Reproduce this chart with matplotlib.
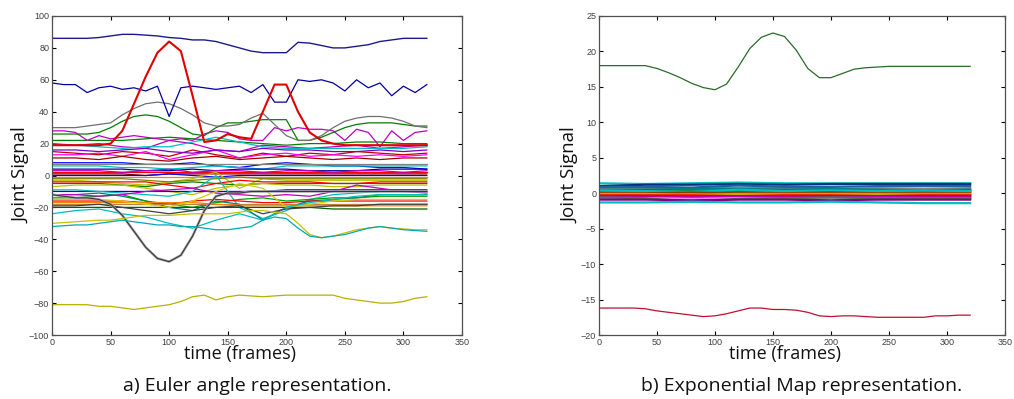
import matplotlib
matplotlib.use("Agg")
import matplotlib.pyplot as plt

# time grids (frames)
t10 = list(range(0, 330, 10))
t20 = list(range(0, 330, 20))
t40 = [0, 40, 80, 120, 160, 200, 240, 280, 320]

# ---- a) Euler angles: prominent signals on the 10-frame grid ----
euler_top_blue = [86, 86, 86, 86, 86.5, 87.5, 88.5, 88.5, 88, 87.5, 86.5, 86, 85, 85, 84, 82, 80,
                  78, 77, 77, 77, 83.5, 83, 81.5, 80, 80, 81, 82, 84, 85, 86, 86, 86]
euler_noisy_blue = [58, 57, 57, 52, 55, 56, 54, 55, 53, 56, 37, 55, 56, 55, 54, 55, 56,
                    52, 57, 46, 46, 60, 59, 60, 58, 53, 60, 55, 58, 50, 56, 52, 57]
euler_red_bell = [19, 19, 19, 19, 19, 20, 28, 45, 62, 77, 84, 78, 50, 21, 22, 26, 24,
                  23, 40, 57, 57, 40, 27, 22, 20, 19, 19, 19, 19, 19, 19, 19, 19]
euler_gray_bell = [30, 30, 30, 31, 32, 33, 38, 42, 45, 46, 45, 42, 38, 33, 31, 31, 32,
                   36, 39, 32, 25, 22, 22, 25, 30, 34, 36, 37, 37, 36, 34, 31, 30]
euler_green_bell = [26, 26, 26, 26, 27, 30, 34, 37, 38, 37, 34, 30, 26, 25, 30, 33, 33,
                    34, 35, 35, 35, 22, 22, 24, 27, 30, 32, 33, 33, 33, 32, 31, 31]
euler_magenta = [28, 28, 27, 22, 25, 23, 24, 25, 24, 23, 22, 23, 22, 26, 28, 27, 23,
                 22, 22, 30, 28, 30, 29, 29, 28, 22, 29, 27, 18, 28, 22, 27, 28]
euler_black_v = [-12, -13, -14, -14, -15, -18, -25, -35, -45, -52, -54, -50, -38, -22, -13, -11, -11,
                 -10, -10, -10, -10, -10, -10, -10, -10, -10, -10, -10, -10, -10, -10, -10, -10]
euler_yellow_low = [-81, -81, -81, -81, -82, -82, -83, -84, -83, -82, -81, -79, -76, -75, -78, -76, -75,
                    -75.5, -76, -75.5, -75, -75, -75, -75, -75, -77, -78, -79, -80, -80, -79, -77, -76]
euler_cyan_low = [-32, -31.5, -31, -31, -30, -29, -28, -29, -30, -31, -31, -32, -32, -33, -34, -34, -33,
                  -32, -28, -26, -27, -33, -38, -39, -38, -37, -35, -33, -32, -33, -34, -34.5, -35]
euler_yellow_mid = [-30, -29.5, -29, -28.5, -28, -28, -27, -26, -25, -25, -25, -24.5, -24, -24, -24, -24, -23,
                    -22, -22, -23, -24, -30, -37, -39, -38, -36, -34, -33, -32, -33, -33.5, -34, -34]

# ---- a) Euler angles: bundle on the 20-frame grid ----
bundle_a = [
    ('#c000c0', [20, 19, 20, 18, 17, 22, 20, 16, 15, 19, 18, 17, 18, 19, 17, 18, 19]),
    ('#008000', [22, 22, 22, 22, 23, 24, 23, 22, 21, 20, 19, 20, 20, 21, 21, 20, 20]),
    ('#00bfbf', [19, 19, 18, 17, 18, 18, 21, 24, 21, 18, 17, 17, 17, 17, 17, 17, 18]),
    ('#c00000', [15, 14, 13, 15, 14, 12, 16, 13, 11, 14, 12, 14, 13, 15, 14, 13, 14]),
    ('#ff00ff', [13, 13, 14, 12, 15, 10, 13, 16, 11, 13, 14, 12, 13, 12, 13, 12, 13]),
    ('#8000c0', [16, 16, 15, 16, 17, 15, 14, 16, 15, 17, 16, 16, 15, 15, 16, 15, 16]),
    ('#a00000', [11, 11, 10, 12, 10, 9, 11, 12, 10, 11, 12, 11, 10, 11, 10, 11, 11]),
    ('#0000ff', [8, 8, 8, 8, 7, 7, 8, 6, 5, 7, 8, 7, 6, 6, 5, 5, 4]),
    ('#808080', [7, 7, 7, 7, 7, 7, 7, 7, 7, 7, 7, 7, 7, 7, 7, 7, 7]),
    ('#00bfbf', [6, 6, 6, 5, 5, 4, 5, 6, 5, 4, 6, 6, 6, 6, 6, 6, 6]),
    ('#0000a0', [4, 4, 4, 4, 3, 3, 4, 3, 4, 4, 4, 3, 3, 3, 4, 4, 4]),
    ('#ff0000', [2, 2, 2, 2, 2, 2, 2, 2, 2, 2, 2, 2, 2, 2, 2, 2, 2]),
    ('#800000', [1, 1, 1, 1, 0, 1, 1, 1, 1, 1, 1, 1, 1, 1, 1, 1, 1]),
    ('#bf00bf', [3, 3, 3, 2, 3, 4, 2, 3, 3, 2, 3, 3, 2, 3, 3, 2, 3]),
    ('#0000ff', [0, 0, 0, 0, 0, 1, 0, -1, 0, 0, 0, 0, 0, 0, 0, 0, 0]),
    ('#ff8000', [-1, -1, -1, -1, -1, -1, -1, -1, -1, -1, -1, -1, -1, -1, -1, -1, -1]),
    ('#bfbf00', [-3, -3, -4, -5, -6, -4, -2, 2, -8, -2, -3, -3, -3, -3, -3, -3, -3]),
    ('#008000', [-5, -5, -5, -6, -7, -5, -4, -5, -6, -5, -5, -5, -5, -5, -5, -5, -5]),
    ('#808000', [-2, -2, -2, -2, -3, -4, -3, -2, -1, -2, -2, -2, -2, -2, -2, -2, -2]),
    ('#ff0000', [-4, -4, -4, -4, -4, -6, -8, -5, -3, -4, -4, -4, -5, -5, -4, -4, -4]),
    ('#bfbf00', [-7, -6, -6, -6, -8, -10, -12, -8, -6, -5, -6, -6, -7, -7, -6, -6, -6]),
    ('#0000ff', [-10, -10, -10, -10, -10, -10, -10, -10, -10, -10, -9, -9, -9, -9, -9, -9, -9]),
    ('#00bfbf', [-9, -9, -10, -11, -12, -13, -10, 0, -20, -27, -22, -15, -12, -11, -10, -10, -10]),
    ('#008080', [-12, -12, -11, -13, -16, -20, -22, -16, -18, -28, -20, -16, -15, -14, -12, -12, -12]),
    ('#00a000', [-14, -14, -13, -12, -16, -18, -20, -17, -15, -14, -16, -15, -14, -14, -13, -13, -13]),
    ('#bf00bf', [-12, -12, -13, -12, -10, -9, -8, -11, -12, -13, -12, -13, -10, -6, -8, -10, -11]),
    ('#ff0000', [-16, -16, -16, -16, -17, -18, -16, -15, -16, -17, -17, -16, -16, -16, -16, -16, -16]),
    ('#c08040', [-18, -18, -18, -18, -18, -18, -18, -18, -18, -18, -18, -18, -18, -18, -18, -18, -18]),
    ('#ff8000', [-17, -17, -17, -17, -17, -17, -17, -18, -19, -19, -19, -19, -19, -19, -19, -19, -19]),
    ('#006000', [-20, -20, -20, -20, -20, -20, -20, -20, -20, -20, -20, -20, -21, -21, -21, -21, -21]),
    ('#d0d000', [-15, -15, -15, -16, -18, -20, -16, -10, -5, -8, -20, -18, -16, -15, -15, -15, -15]),
    ('#00bfbf', [-24, -22, -21, -24, -26, -30, -33, -28, -24, -28, -20, -17, -15, -13, -12, -12, -12]),
    ('#404040', [-19, -19, -18, -20, -22, -24, -22, -20, -19, -24, -21, -20, -19, -19, -18, -18, -18]),
]

# ---- b) Exponential map ----
expmap_green = [18, 18, 18, 18, 18, 17.6, 17, 16.3, 15.5, 14.9, 14.6, 15.4, 17.8, 20.4, 22, 22.6, 22.1,
                20.2, 17.6, 16.3, 16.3, 16.9, 17.5, 17.7, 17.8, 17.9, 17.9, 17.9, 17.9, 17.9, 17.9, 17.9, 17.9]
expmap_red = [-16.2, -16.2, -16.2, -16.2, -16.3, -16.6, -16.8, -17, -17.2, -17.4, -17.3, -17, -16.6, -16.2, -16.2, -16.4, -16.4,
              -16.5, -16.8, -17.3, -17.4, -17.3, -17.3, -17.4, -17.5, -17.5, -17.5, -17.5, -17.5, -17.3, -17.3, -17.2, -17.2]
bundle_b = [
    ('#00bfbf', [1.4, 1.3, 1.4, 1.5, 1.4, 1.4, 1.4, 1.4, 1.4]),
    ('#003080', [1.0, 1.2, 1.2, 1.3, 1.2, 1.3, 1.3, 1.3, 1.3]),
    ('#808080', [0.7, 0.7, 0.6, 0.8, 0.7, 0.6, 0.7, 0.6, 0.7]),
    ('#2060a0', [0.9, 0.9, 0.8, 1.1, 0.9, 0.9, 1.0, 1.0, 1.0]),
    ('#008080', [0.5, 0.5, 0.6, 0.6, 0.5, 0.6, 0.5, 0.4, 0.5]),
    ('#008000', [0.3, 0.4, 0.3, 0.3, 0.4, 0.3, 0.3, 0.3, 0.4]),
    ('#606060', [0.2, 0.2, 0.2, 0.1, 0.2, 0.2, 0.2, 0.2, 0.2]),
    ('#00bfbf', [0.4, 0.3, 0.2, 0.5, 0.3, 0.4, 0.3, 0.4, 0.3]),
    ('#804000', [0.0, 0.0, 0.1, 0.0, 0.0, 0.1, 0.0, 0.0, 0.0]),
    ('#ff8000', [-0.1, -0.1, -0.2, -0.1, -0.1, -0.1, -0.1, -0.1, -0.1]),
    ('#bfbf00', [-0.2, -0.2, -0.3, -0.2, -0.3, -0.2, -0.2, -0.3, -0.2]),
    ('#ff0000', [-0.3, -0.3, -0.3, -0.4, -0.3, -0.3, -0.4, -0.3, -0.3]),
    ('#c00040', [-0.4, -0.4, -0.5, -0.4, -0.5, -0.4, -0.4, -0.4, -0.4]),
    ('#bf00bf', [-0.5, -0.6, -0.6, -0.5, -0.6, -0.6, -0.5, -0.6, -0.6]),
    ('#ff80ff', [-0.7, -0.7, -0.8, -0.7, -0.8, -0.7, -0.7, -0.8, -0.7]),
    ('#408040', [-0.6, -0.7, -1.2, -0.8, -0.7, -0.6, -0.7, -0.7, -0.7]),
    ('#800080', [-0.9, -0.9, -1.0, -0.9, -0.9, -1.0, -0.9, -0.9, -0.9]),
    ('#00bfbf', [-1.3, -1.3, -1.2, -1.3, -1.3, -1.2, -1.3, -1.4, -1.4]),
]

frame_ticks = [0, 50, 100, 150, 200, 250, 300, 350]
euler_yticks = [-100, -80, -60, -40, -20, 0, 20, 40, 60, 80, 100]
expmap_yticks = [-20, -15, -10, -5, 0, 5, 10, 15, 20, 25]
captions = ['a) Euler angle representation.', 'b) Exponential Map representation.']

fig = plt.figure(figsize=(10.14, 3.99), dpi=100)
ax1 = fig.add_axes([0.0513, 0.1604, 0.4043, 0.7995])
ax2 = fig.add_axes([0.5907, 0.1604, 0.4004, 0.7995])

lw = 0.9
for col, vals in bundle_a:
    ax1.plot(t20, vals, color=col, lw=lw)
ax1.plot(t10, euler_magenta, color='#bf00bf', lw=lw)
ax1.plot(t10, euler_green_bell, color='#008000', lw=lw)
ax1.plot(t10, euler_gray_bell, color='#707070', lw=lw)
ax1.plot(t10, euler_noisy_blue, color='#0000a0', lw=lw)
ax1.plot(t10, euler_top_blue, color='#1a1a90', lw=1.0)
ax1.plot(t10, euler_red_bell, color='#e00000', lw=1.5)
ax1.plot(t10, euler_black_v, color='#a0a0a0', lw=1.8)
ax1.plot(t10, euler_black_v, color='#303030', lw=0.7)
ax1.plot(t10, euler_yellow_mid, color='#c8c000', lw=lw)
ax1.plot(t10, euler_cyan_low, color='#00a8b8', lw=lw)
ax1.plot(t10, euler_yellow_low, color='#b8b000', lw=0.9)

for col, vals in bundle_b:
    ax2.plot(t40, vals, color=col, lw=1.6)
ax2.plot(t10, expmap_green, color='#2a6a2a', lw=0.9)
ax2.plot(t10, expmap_red, color='#c01030', lw=0.9)

for ax, yt, cap in [(ax1, euler_yticks, captions[0]), (ax2, expmap_yticks, captions[1])]:
    ax.set_xlim(0, 350)
    ax.set_ylim(yt[0], yt[-1])
    ax.set_xticks(frame_ticks)
    ax.set_yticks(yt)
    ax.tick_params(direction='in', length=3, width=0.8, top=True, right=True,
                   labelsize=6.5, labelcolor='#404040', pad=2)
    for lab in ax.get_xticklabels() + ax.get_yticklabels():
        lab.set_family('Liberation Sans')
    for s in ax.spines.values():
        s.set_color('#505050')
        s.set_linewidth(0.9)
    pos = ax.get_position()
    xc = pos.x0 + pos.width / 2
    fig.text(xc - 0.017, 0.112, 'time (frames)', ha='center', va='center',
             fontsize=13, family='Open Sans', color='#111111')
    fig.text(xc, 0.033, cap, ha='center', va='center',
             fontsize=14, family='Open Sans', color='#111111')

fig.text(0.021, 0.56, 'Joint Signal', rotation=90, ha='center', va='center',
         fontsize=13.5, family='Open Sans', color='#111111')
fig.text(0.5625, 0.56, 'Joint Signal', rotation=90, ha='center', va='center',
         fontsize=13.5, family='Open Sans', color='#111111')

fig.savefig('out.png', dpi=100)
